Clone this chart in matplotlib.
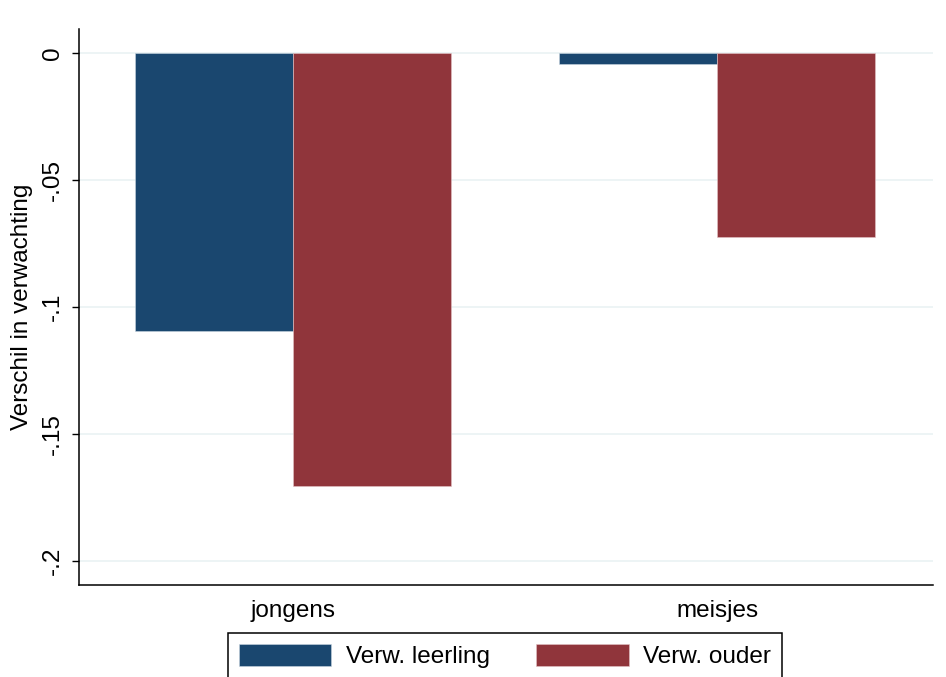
import matplotlib
matplotlib.use("Agg")
import matplotlib.pyplot as plt
import numpy as np

categories = ["jongens", "meisjes"]
series_names = ["Verw. leerling", "Verw. ouder"]
leerling = [-0.1095, -0.0043]
ouder = [-0.1705, -0.0724]
yticks = [0, -0.05, -0.1, -0.15, -0.2]
yticklabels = ["0", "-.05", "-.1", "-.15", "-.2"]

plt.rcParams['font.family'] = ['Liberation Sans', 'DejaVu Sans']

fig = plt.figure(figsize=(9.46, 6.77), dpi=100)
ax = fig.add_axes([79/946, 1-585/677, (933-79)/946, (585-29)/677])

x = np.arange(len(categories))
w = 0.373
blue = "#1a476f"
red = "#90353b"
ax.bar(x - w/2, leerling, width=w, color=blue, edgecolor="#c9d6e0", linewidth=0.4, label=series_names[0], zorder=3)
ax.bar(x + w/2, ouder, width=w, color=red, edgecolor="#e3c4c6", linewidth=0.4, label=series_names[1], zorder=3)

fs = 17.5
ax.set_xlim(-0.505, 1.509)
ax.set_ylim(-0.2095, 0.0095)
ax.set_yticks(yticks)
ax.set_yticklabels(yticklabels, rotation=90, va="center", fontsize=fs)
ax.set_xticks(x)
ax.set_xticklabels(categories, fontsize=fs)
ax.tick_params(axis="x", length=0, pad=11)
ax.tick_params(axis="y", length=5, width=1, pad=6)
ax.yaxis.grid(True, color="#eaf2f3", linewidth=1.2, zorder=0)
ax.set_axisbelow(True)
for s in ["top", "right"]:
    ax.spines[s].set_visible(False)
for s in ["left", "bottom"]:
    ax.spines[s].set_linewidth(1.1)
ax.set_ylabel("Verschil in verwachting", fontsize=fs, labelpad=6)

leg = fig.legend(loc="upper center", bbox_to_anchor=(505/946, 1-633/677), ncol=2,
                 fontsize=fs, handlelength=3.8, handleheight=1.0, handletextpad=0.6,
                 columnspacing=1.9, borderpad=0.45, borderaxespad=0, frameon=True,
                 fancybox=False, edgecolor="black", framealpha=1)
leg.get_frame().set_linewidth(1.1)

fig.savefig("out.png", dpi=100)
